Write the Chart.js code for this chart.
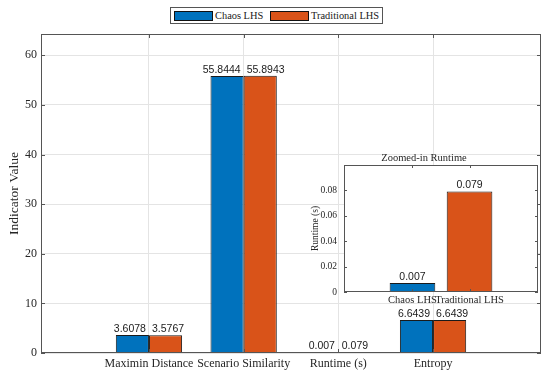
<!DOCTYPE html>
<html>
<head>
<meta charset="utf-8">
<script src="https://cdn.jsdelivr.net/npm/chart.js@4.4.1/dist/chart.umd.min.js"></script>
<style>
  html, body { margin: 0; padding: 0; background: #fff; }
  .wrap { position: relative; width: 550px; height: 375px; overflow: hidden; }
  .wrap canvas { position: absolute; left: 0; top: 0; }
  #inset { pointer-events: none; }
  .legend {
    position: absolute; left: 170px; top: 7px; width: 211px; height: 15px;
    border: 1px solid #555; background: #fff;
    font: 10.4px "Liberation Serif", "Times New Roman", serif; color: #1a1a1a;
  }
  .legend > * { position: absolute; }
  .legend__swatch { top: 3px; width: 37px; height: 8px; border: 1px solid #111; }
  .legend__text { top: 0; line-height: 15px; white-space: nowrap; }
</style>
</head>
<body>
<div class="wrap">
  <canvas id="main" width="550" height="375"></canvas>
  <canvas id="inset" width="550" height="375"></canvas>
  <div class="legend">
    <span class="legend__swatch" style="left:3px;background:#0072BD"></span>
    <span class="legend__text" style="left:44px">Chaos LHS</span>
    <span class="legend__swatch" style="left:99px;background:#D95319"></span>
    <span class="legend__text" style="left:140px">Traditional LHS</span>
  </div>
</div>
<script>
const categories = ['Maximin Distance', 'Scenario Similarity', 'Runtime (s)', 'Entropy'];
const chaosValues = [3.6078, 55.8444, 0.007, 6.6439];
const traditionalValues = [3.5767, 55.8943, 0.079, 6.6439];
const yTicks = [0, 10, 20, 30, 40, 50, 60];

const insetCategories = ['Chaos LHS', 'Traditional LHS'];
const insetRuntime = [0.007, 0.079];
const insetTicks = [0, 0.02, 0.04, 0.06, 0.08];

const BLUE = '#0072BD';
const ORANGE = '#D95319';
const EDGE = '#1a1a1a';
const TEXT = '#262626';
const SERIF = '"Liberation Serif", "Times New Roman", serif';
const SANS = '"Liberation Sans", Arial, sans-serif';

// numbers over every bar, pushed apart a little when two of them collide
const valueLabels = {
  id: 'valueLabels',
  afterDatasetsDraw(chart) {
    const ctx = chart.ctx;
    ctx.save();
    ctx.font = '10.5px ' + SANS;
    ctx.fillStyle = '#1a1a1a';
    ctx.textAlign = 'center';
    ctx.textBaseline = 'alphabetic';
    const items = [];
    chart.data.datasets.forEach((ds, i) => {
      chart.getDatasetMeta(i).data.forEach((bar, j) => {
        const text = String(ds.data[j].y);
        items.push({text, x: bar.x, y: bar.y - 3, w: ctx.measureText(text).width, j, i});
      });
    });
    const gap = 6;
    items.forEach(a => {
      if (a.i !== 0) return;
      const b = items.find(o => o.i === 1 && o.j === a.j);
      if (!b) return;
      const need = (a.w + b.w) / 2 + gap - (b.x - a.x);
      if (need > 0) { a.x -= need / 2; b.x += need / 2; }
    });
    items.forEach(o => ctx.fillText(o.text, o.x, o.y));
    ctx.restore();
  }
};

// matlab style box with inward ticks
const axesBox = {
  id: 'axesBox',
  beforeDraw(chart, args, opts) {
    if (!opts.fill) return;
    const a = chart.chartArea;
    chart.ctx.save();
    chart.ctx.fillStyle = opts.fill;
    chart.ctx.fillRect(a.left, a.top, a.width, a.height);
    chart.ctx.restore();
  },
  afterDraw(chart, args, opts) {
    const {ctx, chartArea: a, scales} = chart;
    const len = opts.tickLength || 4;
    ctx.save();
    ctx.strokeStyle = opts.color || '#555';
    ctx.lineWidth = 1;
    ctx.strokeRect(Math.round(a.left) + .5, Math.round(a.top) + .5, Math.round(a.width) - 1, Math.round(a.height) - 1);
    ctx.beginPath();
    scales.x.ticks.forEach(t => {
      const px = Math.round(scales.x.getPixelForValue(t.value)) + .5;
      ctx.moveTo(px, a.top); ctx.lineTo(px, a.top + len);
      ctx.moveTo(px, a.bottom); ctx.lineTo(px, a.bottom - len);
    });
    scales.y.ticks.forEach(t => {
      const py = Math.round(scales.y.getPixelForValue(t.value)) + .5;
      ctx.moveTo(a.left, py); ctx.lineTo(a.left + len, py);
      ctx.moveTo(a.right, py); ctx.lineTo(a.right - len, py);
    });
    ctx.stroke();
    ctx.restore();
  }
};

const toPoints = values => values.map((y, i) => ({x: i + 1, y}));

new Chart(document.getElementById('main'), {
  type: 'bar',
  data: {
    datasets: [
      {label: 'Chaos LHS', data: toPoints(chaosValues), backgroundColor: BLUE},
      {label: 'Traditional LHS', data: toPoints(traditionalValues), backgroundColor: ORANGE}
    ].map(ds => Object.assign(ds, {
      borderColor: EDGE, borderWidth: 1, categoryPercentage: 0.7, barPercentage: 1, minBarLength: 1
    }))
  },
  options: {
    responsive: false,
    animation: false,
    devicePixelRatio: 1,
    layout: {padding: {top: 34, left: 0, right: 9, bottom: 0}},
    plugins: {
      legend: {display: false},
      tooltip: {enabled: false},
      axesBox: {color: '#555', tickLength: 4}
    },
    scales: {
      x: {
        type: 'linear',
        min: 1 - 1.14,
        max: categories.length + 1.14,
        offset: false,
        afterFit: s => { s.height = 22; },
        afterBuildTicks: s => { s.ticks = categories.map((c, i) => ({value: i + 1})); },
        grid: {color: '#e4e4e4', offset: false, drawTicks: false},
        border: {display: false},
        ticks: {
          padding: 4, autoSkip: false, maxRotation: 0, color: TEXT,
          font: {family: SERIF, size: 12},
          callback: v => categories[v - 1]
        }
      },
      y: {
        min: 0,
        max: 64.3,
        afterFit: s => { s.width = 41; },
        afterBuildTicks: s => { s.ticks = yTicks.map(v => ({value: v})); },
        grid: {color: '#e4e4e4', drawTicks: false},
        border: {display: false},
        ticks: {padding: 4, color: TEXT, font: {family: SERIF, size: 12}},
        title: {
          display: true, text: 'Indicator Value', color: TEXT,
          font: {family: SERIF, size: 13.5}, padding: {top: 6, bottom: 0}
        }
      }
    }
  },
  plugins: [valueLabels, axesBox]
});

new Chart(document.getElementById('inset'), {
  type: 'bar',
  data: {
    datasets: [{
      data: toPoints(insetRuntime),
      backgroundColor: [BLUE, ORANGE],
      borderColor: EDGE, borderWidth: 1,
      categoryPercentage: 0.8, barPercentage: 1
    }]
  },
  options: {
    responsive: false,
    animation: false,
    devicePixelRatio: 1,
    layout: {padding: {top: 150.4, left: 310, right: 12, bottom: 63}},
    plugins: {
      legend: {display: false},
      tooltip: {enabled: false},
      title: {
        display: true, text: 'Zoomed-in Runtime', color: TEXT,
        font: {family: SERIF, size: 10.5, weight: 'normal'}, padding: {top: 2, bottom: 0}
      },
      axesBox: {color: '#555', tickLength: 3, fill: '#fff'}
    },
    scales: {
      x: {
        type: 'linear',
        min: 1 - 1.2,
        max: insetCategories.length + 1.2,
        offset: false,
        afterFit: s => { s.height = 20; },
        afterBuildTicks: s => { s.ticks = insetCategories.map((c, i) => ({value: i + 1})); },
        grid: {display: false, drawTicks: false, offset: false},
        border: {display: false},
        ticks: {
          padding: 2, autoSkip: false, maxRotation: 0, color: TEXT,
          font: {family: SERIF, size: 10.5},
          callback: v => insetCategories[v - 1]
        }
      },
      y: {
        min: 0,
        max: 0.0998,
        afterFit: s => { s.width = 34; },
        afterBuildTicks: s => { s.ticks = insetTicks.map(v => ({value: v})); },
        grid: {display: false, drawTicks: false},
        border: {display: false},
        ticks: {padding: 7, color: TEXT, font: {family: SERIF, size: 9.5}, callback: v => String(v)},
        title: {
          display: true, text: 'Runtime (s)', color: TEXT,
          font: {family: SERIF, size: 9.5}, padding: 0
        }
      }
    }
  },
  plugins: [valueLabels, axesBox]
});
</script>
</body>
</html>
